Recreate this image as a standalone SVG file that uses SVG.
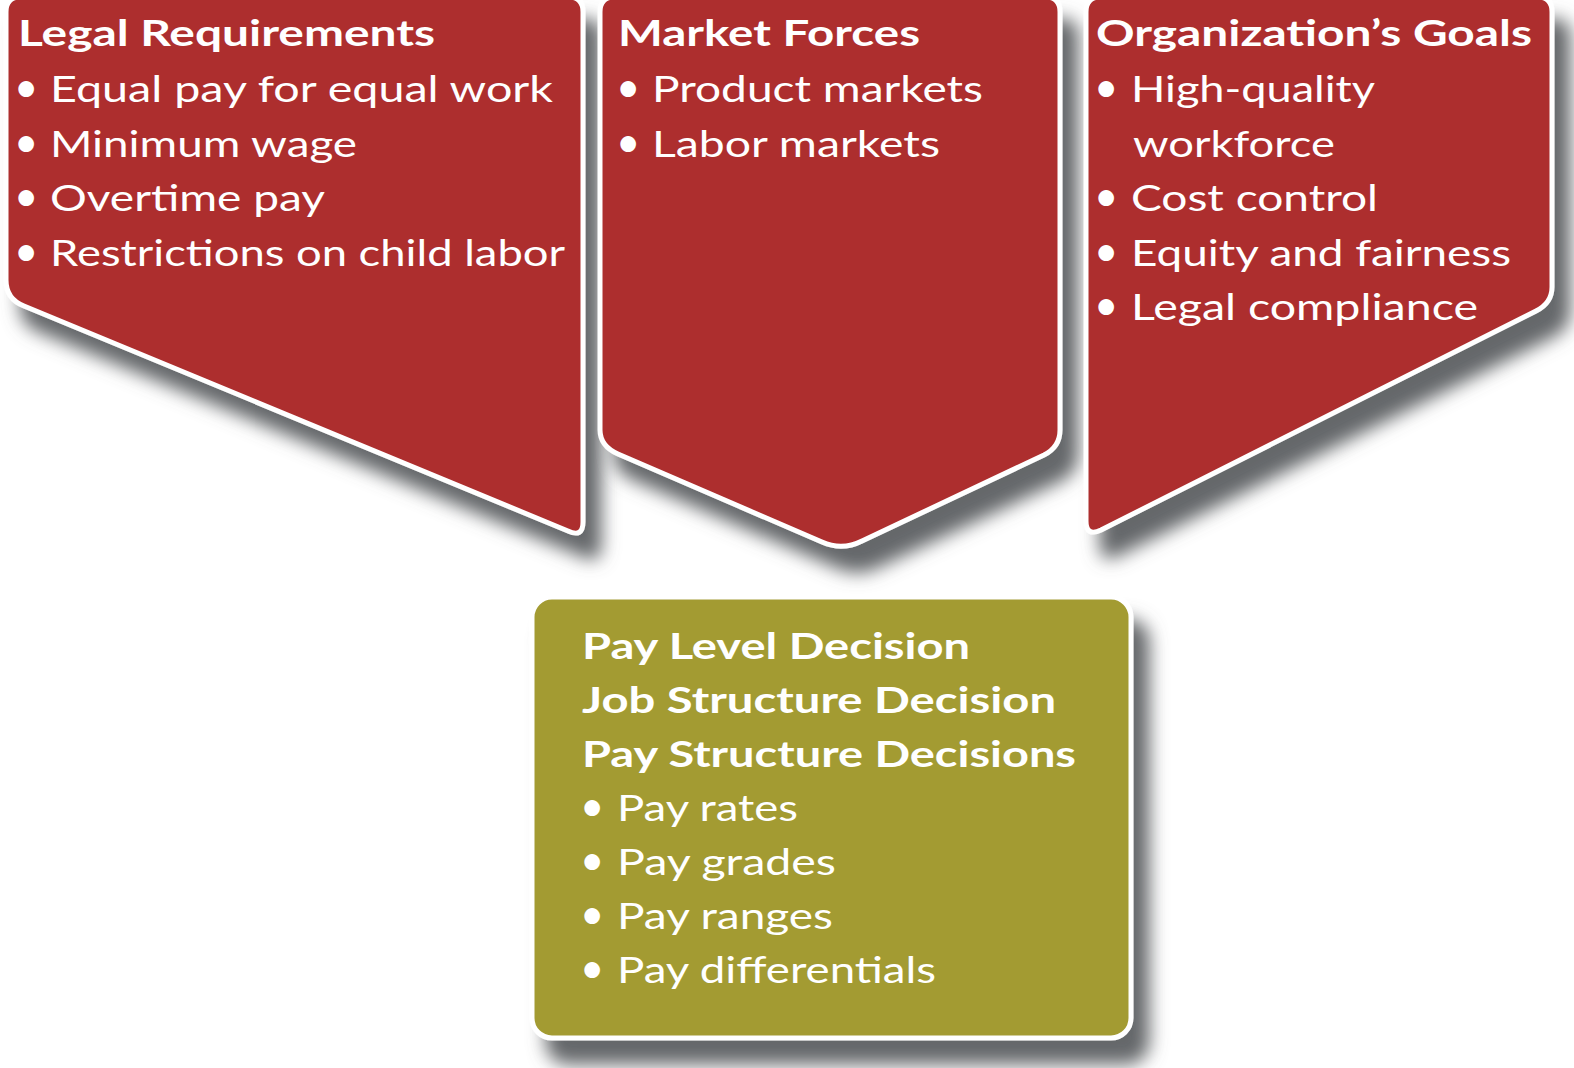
<svg xmlns="http://www.w3.org/2000/svg" width="1574" height="1068" viewBox="0 0 1574 1068">
<defs>
<filter id="sh" x="-10%" y="-10%" width="135%" height="145%">
<feDropShadow dx="16" dy="24" stdDeviation="9" flood-color="#65676a" flood-opacity="1"/>
</filter>
<style>
.red{fill:#ad2f2f;stroke:#ffffff;stroke-width:5;stroke-linejoin:round;filter:url(#sh);}
.olive{fill:#a39b32;stroke:#ffffff;stroke-width:5;filter:url(#sh);}
.t{font-family:Lato,"Open Sans",sans-serif;fill:#ffffff;font-size:36px;}
.b{font-weight:bold;}
.c{font-family:Lato,"Open Sans",sans-serif;fill:#ffffff;font-size:37px;}
.u{font-size:42px;}
</style>
</defs>
<rect x="0" y="0" width="1574" height="1068" fill="#ffffff"/>
<g id="connectors"/>
<g id="legal">
<path class="red" d="M20,-3 H569 Q583,-3 583,12 V522 Q583,538 568,531 L24,306 Q6,299 6,280 V12 Q6,-3 20,-3 Z"/>
<text class="t b" x="18" y="46" textLength="417" lengthAdjust="spacingAndGlyphs">Legal Requirements</text>
<text class="t" y="102"><tspan class="u" x="14">•</tspan><tspan x="50" textLength="503" lengthAdjust="spacingAndGlyphs">Equal pay for equal work</tspan></text>
<text class="t" y="157"><tspan class="u" x="14">•</tspan><tspan x="50" textLength="307" lengthAdjust="spacingAndGlyphs">Minimum wage</tspan></text>
<text class="t" y="211"><tspan class="u" x="14">•</tspan><tspan x="50" textLength="275" lengthAdjust="spacingAndGlyphs">Overtime pay</tspan></text>
<text class="t" y="266"><tspan class="u" x="14">•</tspan><tspan x="50" textLength="515" lengthAdjust="spacingAndGlyphs">Restrictions on child labor</tspan></text>
</g>
<g id="market">
<path class="red" d="M614,-3 H1046 Q1060,-3 1060,12 V430 Q1060,447 1044,455 L862,541 Q842,551 822,542 L618,454 Q600,446 600,430 V12 Q600,-3 614,-3 Z"/>
<text class="t b" x="618" y="46" textLength="302" lengthAdjust="spacingAndGlyphs">Market Forces</text>
<text class="t" y="102"><tspan class="u" x="616">•</tspan><tspan x="652" textLength="331" lengthAdjust="spacingAndGlyphs">Product markets</tspan></text>
<text class="t" y="157"><tspan class="u" x="616">•</tspan><tspan x="652" textLength="288" lengthAdjust="spacingAndGlyphs">Labor markets</tspan></text>
</g>
<g id="goals">
<path class="red" d="M1100,-3 H1538 Q1552,-3 1552,12 V287 Q1552,303 1536,311 L1101,530 Q1086,537 1086,521 V12 Q1086,-3 1100,-3 Z"/>
<text class="t b" x="1096" y="46" textLength="436" lengthAdjust="spacingAndGlyphs">Organization’s Goals</text>
<text class="t" y="102"><tspan class="u" x="1094">•</tspan><tspan x="1131" textLength="244" lengthAdjust="spacingAndGlyphs">High-quality</tspan></text>
<text class="t" x="1133" y="157" textLength="202" lengthAdjust="spacingAndGlyphs">workforce</text>
<text class="t" y="211"><tspan class="u" x="1094">•</tspan><tspan x="1131" textLength="247" lengthAdjust="spacingAndGlyphs">Cost control</tspan></text>
<text class="t" y="266"><tspan class="u" x="1094">•</tspan><tspan x="1131" textLength="380" lengthAdjust="spacingAndGlyphs">Equity and fairness</tspan></text>
<text class="t" y="320"><tspan class="u" x="1094">•</tspan><tspan x="1131" textLength="347" lengthAdjust="spacingAndGlyphs">Legal compliance</tspan></text>
</g>
<g id="decisions">
<rect class="olive" x="532" y="597" width="599" height="441" rx="20" ry="20"/>
<text class="c b" x="582" y="659" textLength="388" lengthAdjust="spacingAndGlyphs">Pay Level Decision</text>
<text class="c b" x="582" y="713" textLength="474" lengthAdjust="spacingAndGlyphs">Job Structure Decision</text>
<text class="c b" x="582" y="767" textLength="494" lengthAdjust="spacingAndGlyphs">Pay Structure Decisions</text>
<text class="c" y="821"><tspan class="u" x="580">•</tspan><tspan x="617" textLength="181" lengthAdjust="spacingAndGlyphs">Pay rates</tspan></text>
<text class="c" y="875"><tspan class="u" x="580">•</tspan><tspan x="617" textLength="219" lengthAdjust="spacingAndGlyphs">Pay grades</tspan></text>
<text class="c" y="929"><tspan class="u" x="580">•</tspan><tspan x="617" textLength="216" lengthAdjust="spacingAndGlyphs">Pay ranges</tspan></text>
<text class="c" y="983"><tspan class="u" x="580">•</tspan><tspan x="617" textLength="319" lengthAdjust="spacingAndGlyphs">Pay differentials</tspan></text>
</g>
</svg>
